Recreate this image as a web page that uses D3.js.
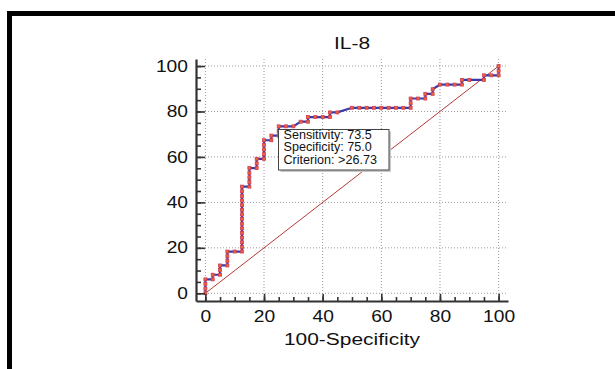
<!DOCTYPE html>
<html>
<head>
<meta charset="utf-8">
<script src="https://cdn.jsdelivr.net/npm/d3@7/dist/d3.min.js"></script>
<style>
  body { margin: 0; background: #fff; }
  text { font-family: "Liberation Sans", Arial, sans-serif; fill: #111; }
</style>
</head>
<body>
<div id="chart"></div>
<script>
// ROC curve points (100-Specificity, Sensitivity)
const fpr = [0, 0, 0, 0, 2.5, 2.5, 5, 5, 5, 7.5, 7.5, 7.5, 7.5, 10, 12.5,
  12.5, 12.5, 12.5, 12.5, 12.5, 12.5, 12.5, 12.5, 12.5, 12.5, 12.5, 12.5, 12.5, 12.5,
  15, 15, 15, 15, 15, 17.5, 17.5, 17.5, 20, 20, 20, 20, 20, 22.5, 22.5, 25, 25, 25,
  27.5, 30, 32.5, 35, 35, 37.5, 40, 42.5, 42.5, 45,
  50, 52.5, 55, 57.5, 60, 62.5, 65, 67.5, 70, 70, 70, 72.5, 75, 75, 77.5, 77.5,
  80, 82.5, 85, 87.5, 87.5, 90, 95, 95, 97.5, 100, 100, 100];
const sens = [0, 2.04, 4.08, 6.12, 6.12, 8.16, 8.16, 10.20, 12.24, 12.24, 14.29, 16.33, 18.37, 18.37, 18.37,
  20.41, 22.45, 24.49, 26.53, 28.57, 30.61, 32.65, 34.69, 36.73, 38.78, 40.82, 42.86, 44.90, 46.94,
  46.94, 48.98, 51.02, 53.06, 55.10, 55.10, 57.14, 59.18, 59.18, 61.22, 63.27, 65.31, 67.35, 67.35, 69.39, 69.39, 71.43, 73.47,
  73.47, 73.47, 75.51, 75.51, 77.55, 77.55, 77.55, 77.55, 79.59, 79.59,
  81.63, 81.63, 81.63, 81.63, 81.63, 81.63, 81.63, 81.63, 81.63, 83.67, 85.71, 85.71, 85.71, 87.76, 87.76, 89.80,
  91.84, 91.84, 91.84, 91.84, 93.88, 93.88, 93.88, 95.92, 95.92, 95.92, 97.96, 100];

const gridTicks = [0, 20, 40, 60, 80, 100];
const minorTicks = d3.range(0, 101, 5);
const title = "IL-8";
const xTitle = "100-Specificity";
const boxLines = ["Sensitivity: 73.5", "Specificity: 75.0", "Criterion: >26.73"];

const width = 615, height = 369;
const svg = d3.select("#chart").append("svg")
  .attr("width", width).attr("height", height);
svg.append("rect").attr("width", width).attr("height", height).attr("fill", "#fff");

// frame lines (top + left)
svg.append("path")
  .attr("d", "M9.5,369V13.5H615")
  .attr("fill", "none").attr("stroke", "#000").attr("stroke-width", 5);

const pLeft = 196, pRight = 508, pTop = 59, pBottom = 301;
const x = d3.scaleLinear().domain([-3.2, 103.2]).range([pLeft, pRight]);
const y = d3.scaleLinear().domain([-3.4, 103.1]).range([pBottom, pTop]);

// grid
const grid = svg.append("g").attr("stroke", "#9a9a9a").attr("stroke-dasharray", "1,2");
grid.selectAll(".gx").data(gridTicks).join("line")
  .attr("x1", d => x(d)).attr("x2", d => x(d))
  .attr("y1", pTop).attr("y2", pBottom);
grid.selectAll(".gy").data(gridTicks).join("line")
  .attr("y1", d => y(d)).attr("y2", d => y(d))
  .attr("x1", pLeft).attr("x2", pRight);

// reference diagonal
svg.append("line")
  .attr("x1", x(0)).attr("y1", y(0)).attr("x2", x(100)).attr("y2", y(100))
  .attr("stroke", "#b02020").attr("stroke-width", 0.9);

const pts = fpr.map((v, i) => [v, sens[i]]);

svg.append("path")
  .datum(pts)
  .attr("d", d3.line().x(d => x(d[0])).y(d => y(d[1])))
  .attr("fill", "none").attr("stroke", "#3a3aaa").attr("stroke-width", 2.2);

svg.selectAll(".pt").data(pts).join("rect")
  .attr("x", d => x(d[0]) - 1.5).attr("y", d => y(d[1]) - 1.5)
  .attr("width", 3).attr("height", 3)
  .attr("fill", "#f0642e").attr("stroke", "#d0405a").attr("stroke-width", 0.8);

// criterion box
const bx = 278.5, by = 129.5, bw = 110.5, bh = 40.5;
svg.append("rect").attr("x", bx + 2).attr("y", by + 2).attr("width", bw).attr("height", bh)
  .attr("fill", "#c8c8c8");
svg.append("rect").attr("x", bx).attr("y", by).attr("width", bw).attr("height", bh)
  .attr("fill", "#fff").attr("stroke", "#444").attr("stroke-width", 1);
svg.selectAll(".bt").data(boxLines).join("text")
  .attr("transform", (d, i) => `translate(${bx + 5},${138.8 + i * 12.4}) scale(1.05,1)`)
  .style("font-size", "12px").text(d => d);

// axes
const axisColor = "#333";
const xMinor = svg.append("g").attr("transform", `translate(0,${pBottom})`)
  .call(d3.axisBottom(x).tickValues(minorTicks).tickSize(-4).tickFormat(""));
const xMajor = svg.append("g").attr("transform", `translate(0,${pBottom})`)
  .call(d3.axisBottom(x).tickValues(gridTicks).tickSizeInner(-7).tickSizeOuter(0).tickPadding(9.7));
const yMinor = svg.append("g").attr("transform", `translate(${pLeft},0)`)
  .call(d3.axisLeft(y).tickValues(minorTicks).tickSize(-5).tickFormat(""));
const yMajor = svg.append("g").attr("transform", `translate(${pLeft},0)`)
  .call(d3.axisLeft(y).tickValues(gridTicks).tickSizeInner(-9).tickSizeOuter(0).tickPadding(6.7));

[xMinor, yMinor].forEach(g => g.select(".domain").remove());
[xMinor, xMajor, yMinor, yMajor].forEach(g => {
  g.selectAll("line").attr("stroke", axisColor).attr("stroke-width", 1.6);
  g.select(".domain").attr("stroke", axisColor).attr("stroke-width", 2.2);
});
[xMajor, yMajor].forEach(g => {
  g.selectAll("text")
    .attr("transform", "scale(1.2,1)")
    .style("font-size", "16px").style("font-family", '"Liberation Sans", Arial, sans-serif')
    .attr("fill", "#111");
});

// titles
svg.append("text").attr("transform", "translate(352,49) scale(1.27,1)")
  .attr("text-anchor", "middle").style("font-size", "16.5px").text(title);
svg.append("text").attr("transform", "translate(352,345) scale(1.27,1)")
  .attr("text-anchor", "middle").style("font-size", "16.5px").text(xTitle);
</script>
</body>
</html>
